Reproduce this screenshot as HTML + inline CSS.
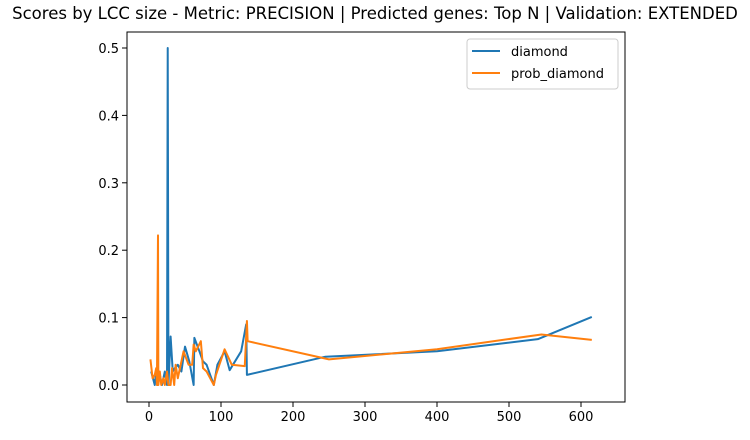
<!DOCTYPE html>
<html><head><meta charset="utf-8"><style>
body{margin:0;background:#fff;}
svg{font-family:"DejaVu Sans","Liberation Sans",sans-serif;}
</style></head><body>
<svg id="chart" width="750" height="435" viewBox="0 0 750 435">
<text x="375" y="19" text-anchor="middle" font-size="16.5" fill="#000">Scores by LCC size - Metric: PRECISION | Predicted genes: Top N | Validation: EXTENDED</text>
<g id="plot"></g>
</svg>
<script>
const diamondX=[3,8,10,12,15,18,22,25,26,27,30,33,36,40,45,50,56,62,63,70,75,80,90,95,105,112,128,135,136,245,400,540,615];
const diamondY=[0.02,0,0.02,0,0.015,0,0.02,0,0.5,0,0.072,0.02,0.025,0.03,0.02,0.057,0.035,0,0.07,0.05,0.035,0.03,0,0.03,0.05,0.022,0.05,0.09,0.015,0.042,0.05,0.068,0.101];
const probX=[2,5,8,10,11,12.5,13,15,17,20,22,25,27,30,32,35,37,40,42,48,55,60,62,65,72,75,80,90,93,105,115,133,136,137,250,400,545,615];
const probY=[0.038,0.01,0.015,0.025,0,0.222,0,0.02,0,0.01,0,0.02,0,0,0.025,0,0.03,0.01,0.02,0.05,0.03,0.03,0.06,0.05,0.065,0.025,0.02,0,0.015,0.053,0.03,0.028,0.095,0.065,0.038,0.053,0.075,0.067];
const xTicks=[0,100,200,300,400,500,600];
const yTicks=[0,0.1,0.2,0.3,0.4,0.5];
const L=127,R=625,T=32,B=402;
const sx=v=>149+v*0.72;
const sy=v=>385-v*674;
const g=document.getElementById('plot');
const NS='http://www.w3.org/2000/svg';
function mk(t,a){const e=document.createElementNS(NS,t);for(const k in a)e.setAttribute(k,a[k]);g.appendChild(e);return e;}
function line(xs,ys,c,name){
  const p=mk('polyline',{points:xs.map((x,i)=>sx(x)+','+sy(ys[i])).join(' '),fill:'none',stroke:c,'stroke-width':2,'stroke-linejoin':'round'});
  
  
}
line(diamondX,diamondY,'#1f77b4','diamond-line');
line(probX,probY,'#ff7f0e','prob-diamond-line');
const fr=mk('rect',{x:L,y:T,width:R-L,height:B-T,fill:'none',stroke:'#000','stroke-width':1});


xTicks.forEach(v=>{
  mk('line',{x1:sx(v),x2:sx(v),y1:B,y2:B+5,stroke:'#000','stroke-width':1});
  const t=mk('text',{x:sx(v),y:B+19,'text-anchor':'middle','font-size':13,fill:'#000'});t.textContent=v;
  
  
});
yTicks.forEach(v=>{
  mk('line',{x1:L-5,x2:L,y1:sy(v),y2:sy(v),stroke:'#000','stroke-width':1});
  const t=mk('text',{x:L-8,y:sy(v)+5,'text-anchor':'end','font-size':13,fill:'#000'});t.textContent=v.toFixed(1);
  
  
});
const lg=mk('rect',{x:467,y:39,width:151,height:50,rx:3,fill:'#fff',stroke:'#ccc','stroke-width':1});


[['diamond','#1f77b4'],['prob_diamond','#ff7f0e']].forEach((d,i)=>{
  const y=51+i*22;
  mk('line',{x1:472,x2:500,y1:y,y2:y,stroke:d[1],'stroke-width':2});
  const t=mk('text',{x:511,y:y+5,'font-size':13,fill:'#000'});t.textContent=d[0];
  
  
});
</script>
</body></html>
